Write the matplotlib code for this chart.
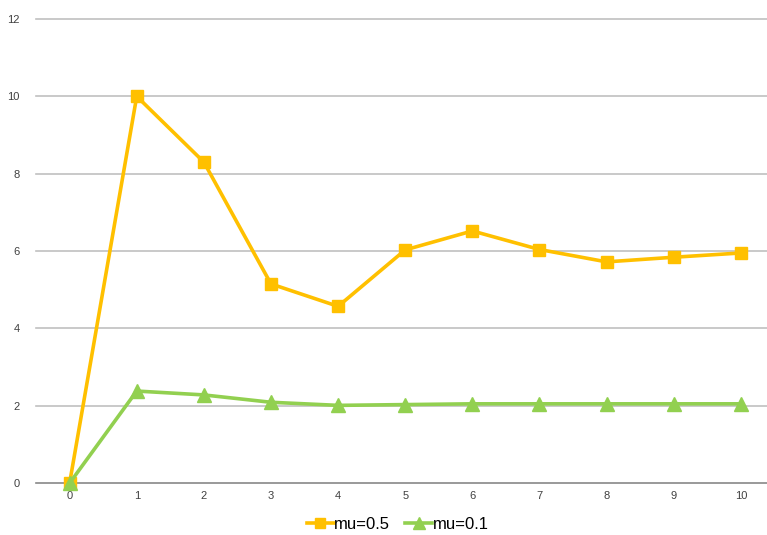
import matplotlib.pyplot as plt

plt.rcParams['font.family'] = ['Liberation Sans', 'DejaVu Sans']

steps = [0, 1, 2, 3, 4, 5, 6, 7, 8, 9, 10]
mu_05 = [0, 10.0, 8.30, 5.15, 4.57, 6.03, 6.52, 6.04, 5.72, 5.84, 5.95]
mu_01 = [0, 2.38, 2.28, 2.09, 2.01, 2.03, 2.05, 2.05, 2.05, 2.05, 2.05]
y_ticks = [0, 2, 4, 6, 8, 10, 12]

orange = '#FFC000'
green = '#92D050'

fig = plt.figure(figsize=(7.67, 5.35), dpi=100)
ax = fig.add_axes([0.047, 0.097, 0.953, 0.8675])

# grid lines, the zero line a bit darker
for y in y_ticks:
    ax.axhline(y, color='#888888' if y == 0 else '#C0C0C0', linewidth=1.2,
               zorder=0, clip_on=False)

ax.plot(steps, mu_05, color=orange, linewidth=2.6, marker='s', markersize=8.5,
        label='mu=0.5', clip_on=False, zorder=3)
ax.plot(steps, mu_01, color=green, linewidth=2.6, marker='^', markersize=10,
        label='mu=0.1', clip_on=False, zorder=4)

ax.set_xlim(-0.5, 10.39)
ax.set_ylim(0, 12)
ax.set_xticks(steps)
ax.set_yticks(y_ticks)
ax.tick_params(length=0, labelsize=8, colors='#404040', pad=6)
ax.tick_params(axis='y', pad=12)
for spine in ax.spines.values():
    spine.set_visible(False)

ax.legend(loc='upper center', bbox_to_anchor=(0.495, -0.04), ncol=2, frameon=False,
          fontsize=12, handlelength=1.6, handletextpad=0.05, columnspacing=0.9,
          markerscale=0.85)

fig.savefig('out.png', dpi=100)
